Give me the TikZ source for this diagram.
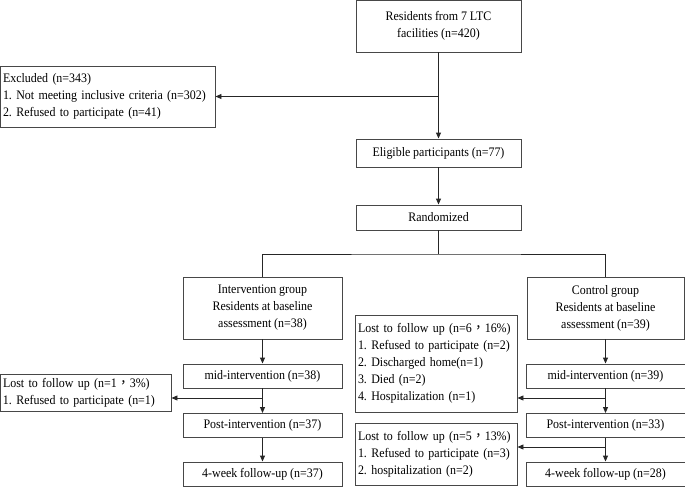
\documentclass[tikz,border=0pt]{standalone}
\usepackage{fontspec}
\setmainfont{Liberation Serif}[FakeStretch=0.92]
\newfontfamily\cjkfont{Noto Sans CJK TC}
\usetikzlibrary{arrows.meta}

\newcommand{\fwcomma}{{\cjkfont ，}}
\newcommand{\flowfont}{\fontsize{13pt}{17pt}\selectfont
  \spaceskip=2.8pt plus 1pt minus 0.5pt\relax}
\colorlet{boxline}{black!72}
\colorlet{arrowline}{black!85}
\frenchspacing

\tikzset{
  box/.style={draw=boxline, line width=0.9pt, inner sep=0pt, align=center},
  listbox/.style={box, align=left, inner xsep=3pt},
  stepbox/.style={box, minimum width=159pt, minimum height=24pt},
  link/.style={draw=arrowline, line width=0.9pt}
}

\begin{document}
\begin{tikzpicture}[x=1pt, y=-1pt, >={Triangle[length=6pt,width=5pt]},
  font=\flowfont]
\useasboundingbox (0,0) rectangle (685,487);

% enrolment
\node [box, minimum width=165pt, minimum height=52pt] (start) at (438.5,26)
  {Residents from 7 LTC\\facilities (n=420)};
\node [listbox, text width=209pt, minimum height=61pt] (excl) at (107.5,96.5)
  {Excluded (n=343)\\1. Not meeting inclusive criteria (n=302)\\2. Refused to participate (n=41)};
\node [box, minimum width=165pt, minimum height=28pt] (elig) at (438.5,153)
  {Eligible participants (n=77)};
\node [box, minimum width=165pt, minimum height=25pt] (rand) at (438.5,217.5)
  {Randomized};
\coordinate (split) at (438.5,254);

% groups
\node [box, minimum width=159pt, minimum height=62pt] (intv) at (262.5,308)
  {Intervention group\\Residents at baseline\\assessment (n=38)};
\node [box, minimum width=157pt, minimum height=62pt] (ctrl) at (605.5,308)
  {Control group\\Residents at baseline\\assessment (n=39)};

\foreach \g/\x/\a/\b/\c in {I/262.5/38/37/37, C/605.5/39/33/28} {
  \node [stepbox] (mid\g) at (\x,376) {mid-intervention (n=\a)};
  \node [stepbox] (post\g) at (\x,425.5) {Post-intervention (n=\b)};
  \node [stepbox] (fu\g) at (\x,474) {4-week follow-up (n=\c)};
}

% losses
\node [listbox, text width=165pt, minimum height=37pt] (lostL) at (85.5,392.5)
  {Lost to follow up (n=1\fwcomma3\%)\\1. Refused to participate (n=1)};
\node [listbox, text width=156pt, minimum height=97pt] (lostM) at (436,363.5)
  {Lost to follow up (n=6\fwcomma16\%)\\1. Refused to participate (n=2)\\2. Discharged home(n=1)\\3. Died (n=2)\\4. Hospitalization (n=1)};
\node [listbox, text width=156pt, minimum height=62pt] (lostN) at (436,454)
  {Lost to follow up (n=5\fwcomma13\%)\\1. Refused to participate (n=3)\\2. hospitalization (n=2)};

\coordinate (brI) at (262.5,398);
\coordinate (brC) at (605.5,398);
\coordinate (brD) at (605.5,447);

\draw [link, ->] (start) -- (elig);
\draw [link, ->] (start.south |- excl.east) -- (excl.east);
\draw [link, ->] (elig) -- (rand);
\draw [link] (rand) -- (split);
\draw [link] (intv.north) |- (split) -| (ctrl.north);

\foreach \g/\grp in {I/intv, C/ctrl} {
  \draw [link, ->] (\grp) -- (mid\g);
  \draw [link, ->] (mid\g) -- (post\g);
  \draw [link, ->] (post\g) -- (fu\g);
}

\draw [link, ->] (brI) -- (brI -| lostL.east);
\draw [link, ->] (brC) -- (brC -| lostM.east);
\draw [link, ->] (brD) -- (brD -| lostN.east);
\end{tikzpicture}
\end{document}
